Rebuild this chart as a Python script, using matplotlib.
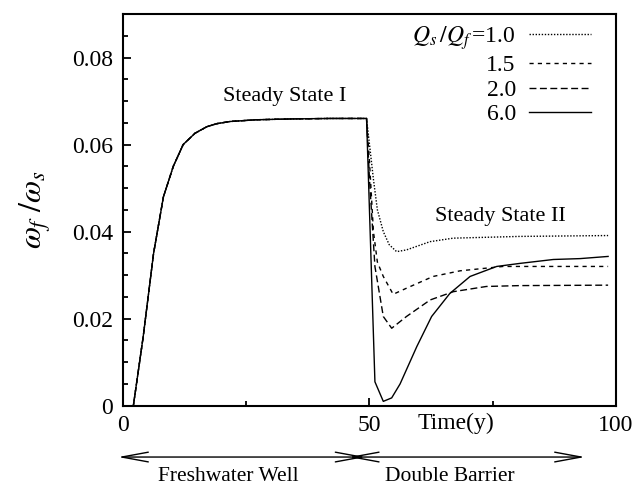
import matplotlib
matplotlib.use("Agg")
import matplotlib.pyplot as plt
from matplotlib.ticker import MultipleLocator, FixedLocator

plt.rcParams['font.family'] = 'Liberation Serif'
plt.rcParams['mathtext.fontset'] = 'stix'

# freshwater well phase, shared by every case
rise_t = [0.0, 2.1, 4.1, 6.2, 8.2, 10.2, 12.2, 14.6, 17.0, 19.0, 21.7, 27.0, 34.5, 42.0, 49.4]
rise_w = [0.0, 0.0, 0.0159, 0.035, 0.048, 0.055, 0.060, 0.0626, 0.0641, 0.0648, 0.0653,
          0.0657, 0.0659, 0.0660, 0.0660]

# double barrier phase, one tail per discharge ratio
ratios = ['1.0', '1.5', '2.0', '6.0']

tail_t_10 = [50.0, 50.8, 51.6, 52.8, 54.0, 55.5, 57.5, 62.3, 67.0, 80.5, 98.4]
tail_w_10 = [0.060, 0.052, 0.045, 0.040, 0.037, 0.0354, 0.0358, 0.0377, 0.0385, 0.0389, 0.0391]

tail_t_15 = [50.0, 50.8, 51.6, 52.8, 54.8, 57.5, 62.9, 68.4, 77.1, 98.4]
tail_w_15 = [0.056, 0.040, 0.033, 0.0297, 0.0256, 0.0270, 0.0297, 0.0310, 0.0320, 0.0320]

tail_t_20 = [50.0, 51.1, 52.8, 54.5, 57.5, 62.3, 67.0, 73.7, 80.5, 98.4]
tail_w_20 = [0.052, 0.032, 0.0205, 0.0178, 0.0205, 0.0243, 0.0262, 0.0274, 0.0276, 0.0277]

tail_t_60 = [51.1, 52.8, 54.5, 56.2, 59.6, 62.6, 66.3, 70.4, 75.8, 80.5, 87.3, 92.7, 98.4]
tail_w_60 = [0.0055, 0.0010, 0.0018, 0.0050, 0.0136, 0.0205, 0.0258, 0.0297, 0.0320,
             0.0327, 0.0336, 0.0338, 0.0343]

tails = [(tail_t_10, tail_w_10), (tail_t_15, tail_w_15),
         (tail_t_20, tail_w_20), (tail_t_60, tail_w_60)]
styles = [(0, (1, 1.2)), (0, (3, 3)), (0, (5, 2.5)), '-']

fig = plt.figure(figsize=(6.38, 4.88), dpi=100)
ax = fig.add_axes([0.1928, 0.1686, 0.7727, 0.8027])

for i, (tt, ww) in enumerate(tails):
    label = r'$Q_s\,/Q_f\,$=' + ratios[i] if i == 0 else ratios[i]
    ax.plot(rise_t + tt, rise_w + ww, color='black', lw=1.0, ls=styles[i], label=label)

ax.set_xlim(0, 100)
ax.set_ylim(0, 0.09)

ax.xaxis.set_major_locator(FixedLocator([0, 50, 100]))
ax.xaxis.set_minor_locator(FixedLocator([25, 75]))
ax.yaxis.set_minor_locator(MultipleLocator(0.005))
ax.set_yticks([0, 0.02, 0.04, 0.06, 0.08])
ax.set_yticklabels(['0', '0.02', '0.04', '0.06', '0.08'])
ax.set_xticklabels(['0', '50', '100'])

ax.tick_params(which='both', direction='in', top=False, right=False, width=1.3,
               labelsize=17)
ax.tick_params(which='major', length=6, pad=7)
ax.tick_params(which='minor', length=3.5)
for s in ax.spines.values():
    s.set_linewidth(1.5)

ax.set_ylabel(r'$\omega_f\ /\omega_s$', fontsize=23, labelpad=14)

xt = ax.get_xaxis_transform()
ax.text(67.5, -0.045, 'Time(y)', transform=xt, ha='center', va='center', fontsize=17)
ax.text(32.7, 0.79, 'Steady State I', ha='center', va='center', fontsize=16,
        transform=xt)
ax.text(76.5, 0.484, 'Steady State II', ha='center', va='center', fontsize=16,
        transform=xt)

# phase arrows below the axis
arrow = dict(arrowstyle='<->,head_length=1.9,head_width=0.35', lw=1.0, color='black',
             shrinkA=0, shrinkB=0, mutation_scale=10)
ax.annotate('', xy=(-1.0, -0.131), xytext=(49.2, -0.131), xycoords=xt, textcoords=xt,
            arrowprops=arrow, annotation_clip=False)
ax.annotate('', xy=(45.8, -0.131), xytext=(93.7, -0.131), xycoords=xt, textcoords=xt,
            arrowprops=arrow, annotation_clip=False)
ax.text(21.3, -0.18, 'Freshwater Well', transform=xt, ha='center', va='center',
        fontsize=15.5)
ax.text(66.3, -0.18, 'Double Barrier', transform=xt, ha='center', va='center',
        fontsize=15.5)

leg = ax.legend(loc='upper right', bbox_to_anchor=(0.95, 0.975), frameon=False,
                markerfirst=False, fontsize=17, handlelength=2.65, handletextpad=0.55,
                labelspacing=0.13, borderpad=0, borderaxespad=0)

fig.savefig('out.png', dpi=100)
